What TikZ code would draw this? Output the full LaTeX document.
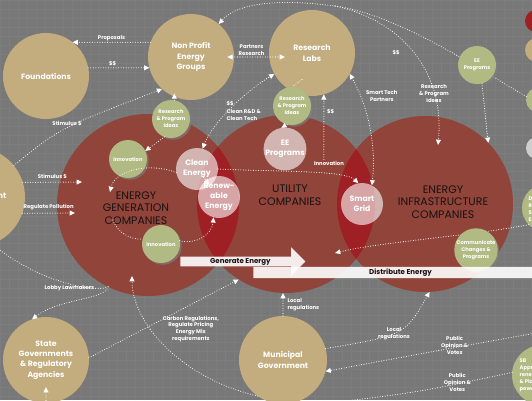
\documentclass[tikz,border=0pt]{standalone}
\usepackage{fontspec}
\setmainfont{Poppins}
\usetikzlibrary{arrows.meta, positioning, calc, shadows, shapes.arrows}

\definecolor{slate_bg}{RGB}{120,120,120}
\definecolor{grid_gray}{RGB}{125,125,125}
\definecolor{brick}{RGB}{144,68,58}
\definecolor{crimson}{RGB}{158,32,36}
\definecolor{sand}{RGB}{195,172,125}
\definecolor{sage}{RGB}{177,186,130}
\definecolor{ash}{RGB}{206,206,206}
\definecolor{ink}{RGB}{24,18,18}

\begin{document}
\begin{tikzpicture}[
    x=0.75pt, y=-0.75pt,
    % circle styles, #1 = radius in px
    sector/.style={circle, fill=brick, inner sep=0pt, outer sep=0pt, minimum size=#1*1.5pt},
    sector_text/.style={text=ink, align=center, font=\fontsize{8.2}{9.5}\selectfont},
    actor_font/.style={text=white, align=center, font=\fontsize{5.8}{7.8}\selectfont\bfseries},
    actor/.style={circle, fill=sand, inner sep=0pt, outer sep=0pt, minimum size=#1*1.5pt, actor_font},
    idea_font/.style={text=white, align=center, font=\fontsize{3.9}{5.3}\selectfont\bfseries},
    idea/.style={circle, fill=sage, inner sep=0pt, outer sep=0pt, minimum size=#1*1.5pt, idea_font,
        drop shadow={shadow xshift=1.3pt, shadow yshift=-1.3pt, opacity=0.65}},
    tech/.style={circle, fill=white, fill opacity=0.6, text opacity=1, inner sep=0pt, outer sep=0pt,
        minimum size=#1*1.5pt, text=white, align=center, font=\fontsize{5.8}{7.4}\selectfont\bfseries},
    wedge/.tip={Triangle[length=4pt, width=3.6pt]},
    flow/.style={white, line width=0.8pt, line cap=round, dash pattern=on 0pt off 1.9pt, -wedge},
    both/.style={wedge-wedge},
    tag/.style={text=white, align=center, inner sep=1pt, font=\fontsize{4}{5.2}\selectfont\bfseries},
    band/.style={single arrow, fill=white, fill opacity=0.9, text opacity=1, text=ink,
        font=\fontsize{5.3}{6}\selectfont\bfseries, anchor=west, inner xsep=0pt,
        text height=4pt, text depth=1.2pt}
]

\useasboundingbox (0,0) rectangle (532,400);
\clip (0,0) rectangle (532,400);
\fill[slate_bg] (0,0) rectangle (532,400);
\draw[grid_gray, line width=0.25pt, step=6.75pt] (0,0) grid (532,400);

% company circles
\node[sector=91] (gen) at (148,205) {};
\node[sector=89] (util) at (286,204) {};
\node[sector=88] (infra) at (425,204) {};
\begin{scope}
    \clip (148,205) circle [radius=91];
    \fill[crimson] (286,204) circle [radius=89];
\end{scope}
\begin{scope}
    \clip (286,204) circle [radius=89];
    \fill[crimson] (425,204) circle [radius=88];
\end{scope}
\node[sector_text] (gen_label) at (136,208) {ENERGY\\GENERATION\\COMPANIES};
\node[sector_text] (util_label) at (290,195) {UTILITY\\COMPANIES};
\node[sector_text] (infra_label) at (443,202) {ENERGY\\INFRASTRUCTURE\\COMPANIES};

% outside actors
\node[actor=43] (found) at (46,76) {Foundations};
\node[actor=43] (nonprofit) at (191,57) {Non Profit\\Energy\\Groups};
\node[actor=43] (labs) at (312,53) {Research\\Labs};
\node[actor=50] (gov) at (-25,197) {};
\node[actor_font, anchor=east] (gov_label) at (11,196) {nt};
\node[actor=43] (state) at (46,360) {State\\Governments\\\& Regulatory\\Agencies};
\node[actor=44] (muni) at (283,360) {Municipal\\Government};

% cut off at the right edge
\node[sector=11, fill=crimson] (side_r) at (536,21) {};
\node[actor=12] (side_t) at (537,50) {};
\node[idea=13] (side_g2) at (539,100) {};
\node[actor=11, fill=ash] (side_w) at (537,148) {};
\node[idea=24] (side_g3) at (546,208) {};
\node[idea_font, align=left, anchor=west] (side_g3_text) at (524,209) {D\\R\\Se\\EE};
\node[idea=30] (side_g5) at (542,375) {};
\node[idea_font, align=left, anchor=west] (side_g5_text) at (515,375) {SB\\Approv\\renew\\\& Pla\\powe};

\coordinate (arc_split) at (335,6);
\coordinate (stim_tip) at (82,182);
\coordinate (poll_tip) at (75,213);
\coordinate (gen_foot) at (132,276);
\coordinate (infra_in) at (438,145);
\coordinate (util_in) at (335,253);
\coordinate (pub_east) at (536,333);
\coordinate (pub_south) at (322,404);
\coordinate (loop_w) at (110,192);
\coordinate (loop_sw) at (113,220);

% links between actors
\draw[flow] (nonprofit.160) -- node[tag, above] (lbl_prop) {Proposals} (nonprofit.160 -| found.52);
\draw[flow] (found.11) -- node[tag, pos=0.4, above] (lbl_fund_a) {\$\$} (found.11 -| nonprofit.195);
\draw[flow] (gov.39) .. controls (60,128) .. node[tag, above] (lbl_stim_a) {Stimulus \$} (nonprofit.228);
\draw[flow] (gov.17) -- node[tag, above=1pt] (lbl_stim_b) {Stimulus \$} (stim_tip);
\draw[flow] (gov.-19) -- node[tag, above=1pt] (lbl_poll) {Regulate Pollution} (poll_tip);
\draw[flow] (gen.244) .. controls (95,293) and (40,282) .. node[tag, pos=0.45, below] (lbl_lobby) {Lobby Lawmakers} (gov.-70);
\draw[flow] (gen.244) .. controls (105,300) and (60,298) .. (state.109);
\draw[flow] (state.3) -- node[tag, pos=0.68, below=7pt] (lbl_carbon) {Carbon Regulations,\\Regulate Pricing\\Energy Mix\\requirements} (util.238);
\draw[flow] (muni.235) .. controls (180,378) and (132,322) .. (gen_foot);
\draw[flow] (muni.north) -- node[tag, right=2pt, align=left] (lbl_local_a) {Local\\regulations} (muni.north |- util.south);
\draw[flow] (muni.15) .. controls (405,335) .. node[tag, pos=0.45] (lbl_local_b) {Local\\regulations} (infra.273);
\draw[flow] (pub_east) .. controls (430,352) .. node[tag, pos=0.35, yshift=2pt] (lbl_pub_a) {Public\\Opinion \&\\Votes} (muni.-15);
\draw[flow, -] (side_g5.175) .. controls (420,392) .. node[tag, pos=0.25, yshift=1pt] (lbl_pub_b) {Public\\Opinion \&\\Votes} (pub_south);
\draw[flow] (state.south) -- ++(0,-16);
\draw[flow, both, shorten <=-5pt, shorten >=-12pt] (nonprofit.east) -- node[tag, above] (lbl_partners) {Partners\\Research} (nonprofit.east -| labs.west);
\draw[flow] (side_g2.165) .. controls (480,70) and (400,15) .. (arc_split) .. controls (290,0) and (240,0) .. (nonprofit.50);
\draw[flow] (arc_split) .. controls (400,20) and (445,70) .. node[tag, pos=0.5, left=9pt] (lbl_fund_b) {\$\$} node[tag, pos=0.75] (lbl_ideas_c) {Research\\\& Program\\Ideas} (infra_in);
\draw[flow] (side_g3.224) .. controls (470,236) and (380,242) .. (util_in);

% ideas and technologies
\node[idea=19] (ideas_a) at (171,119) {Research\\\& Program\\Ideas};
\node[idea=19] (ideas_b) at (292,106) {Research\\\& Program\\Ideas};
\node[idea=19] (innov_a) at (128,159) {Innovation};
\node[idea=19] (innov_b) at (161,244) {Innovation};
\node[idea=19] (ee_top) at (477,65) {EE\\Programs};
\node[idea=20] (comm) at (476,250) {Communicate\\Changes \&\\Programs};

\node[tech=21] (clean) at (197,169) {Clean\\Energy};
\node[tech=21] (renew) at (219,197) {Renew-\\able\\Energy};
\node[tech=21] (ee_mid) at (285,149) {EE\\Programs};
\node[tech=21] (smart) at (362,204) {Smart\\Grid};

% links inside the companies
\draw[flow] (ideas_a.80) -- ++(0,-7);
\draw[flow] (ideas_a.250) -- (innov_a.25);
\draw[flow, -] ($(labs)!0.5!(ideas_b)$) -- (ideas_b.north);
\draw[flow] (ideas_b.255) -- (ee_mid.100);
\draw[flow, both] (clean.75) .. controls (212,125) and (240,95) .. (labs.209);
\node[tag, align=left, anchor=west] (lbl_clean_rd) at (225,111) {\$\$\\[1pt]Clean R\&D \&\\Clean Tech};
\draw[flow] (clean.east) .. controls (280,172) and (345,170) .. node[tag, pos=0.66, above=5pt] (innov_tag) {Innovation} (smart.100);
\draw[flow] (innov_tag.north -| labs.-74) -- node[tag, pos=0.73, right=1pt] (lbl_fund_c) {\$\$} (labs.-74);
\draw[flow, both] (labs.-29) .. controls (365,100) and (377,140) .. node[tag, pos=0.25, right=3pt] (lbl_smart) {Smart Tech\\Partners} (smart.62);
\draw[flow] (clean.190) .. controls (150,162) and (115,170) .. (loop_w);
\draw[flow, -] (loop_sw) .. controls (117,232) and (130,240) .. (innov_b.165);
\draw[flow] (innov_b.10) .. controls (195,245) and (212,235) .. (renew.255);
\draw[flow] ($(clean)!0.3!(renew)$) -- ($(clean)!0.55!(renew)$);
\draw[flow] (ee_top.-75) .. controls (484,110) .. (infra.44);

% energy flow bands
\node[band, minimum height=300*0.75pt, single arrow head extend=4pt, inner ysep=1.4pt] (distribute) at (253,272.5) {Distribute Energy};
\node[band, minimum height=125*0.75pt, single arrow head extend=7pt, inner ysep=0.8pt] (generate) at (180,261.5) {Generate Energy};

\end{tikzpicture}
\end{document}
